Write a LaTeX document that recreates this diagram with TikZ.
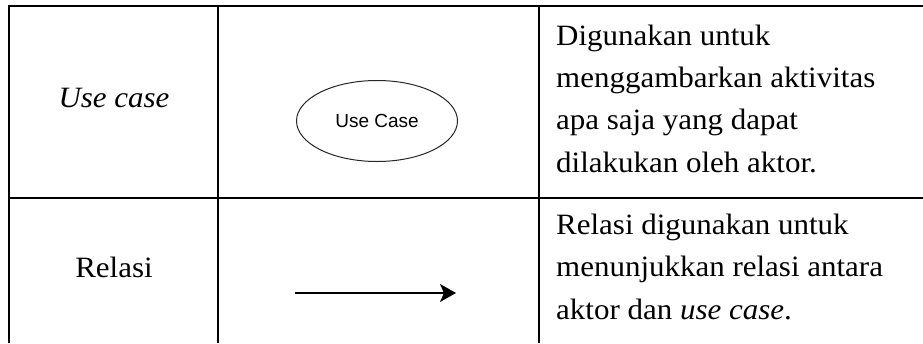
\documentclass[tikz,border=0pt]{standalone}
\usepackage{fontspec}
\setmainfont{Liberation Serif}[FakeStretch=1.05]
\newfontfamily\ucfont{Liberation Sans}
\usetikzlibrary{arrows.meta}
\usetikzlibrary{shapes.geometric}

\tikzset{
  grid line/.style={line width=2pt},
  cell text/.style={font=\fontsize{29.5}{42.3}\selectfont, inner sep=0pt},
}

\begin{document}
\begin{tikzpicture}[x=1pt, y=-1pt]
  \useasboundingbox (0,0) rectangle (923,343);

  % table lines
  \draw[grid line, line join=miter] (8.5,343) -- (8.5,6) -- (923,6);
  \draw[grid line] (218,6) -- (218,343);
  \draw[grid line] (539,6) -- (539,343);
  \draw[grid line] (8.5,198) -- (923,198);

  % first column
  \node[cell text, anchor=base] (uclabel) at (114,107) {\textit{Use case}};
  \node[cell text, anchor=base] (rellabel) at (114,277) {Relasi};

  % second column
  \node[ellipse, draw=black!85, line width=1pt, minimum width=161pt, minimum height=81pt,
        inner sep=0pt, font=\ucfont\fontsize{19}{19}\selectfont] (ucshape) at (377,121) {Use Case};
  \coordinate (relstart) at (295,293);
  \coordinate (relend) at (456,293);
  \draw[-{Stealth[length=16pt, width=18pt, inset=4pt]}, line width=1.5pt] (relstart) -- (relend);

  % third column (base = baseline of the last line)
  \node[cell text, anchor=base west, align=left] (ucdesc) at (556,172)
    {Digunakan untuk\\menggambarkan aktivitas\\apa saja yang dapat\\dilakukan oleh aktor.};
  \node[cell text, anchor=base west, align=left] (reldesc) at (556,319)
    {Relasi digunakan untuk\\menunjukkan relasi antara\\aktor dan \textit{use case}.};
\end{tikzpicture}
\end{document}
